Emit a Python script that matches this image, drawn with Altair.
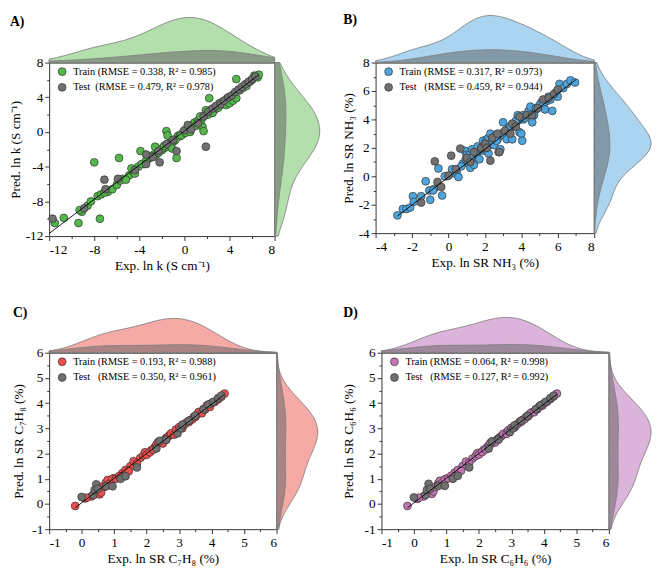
import altair as alt
import pandas as pd

FONT = "Liberation Serif"

# ---------------- data ----------------
# Panel A : ln k
A_train_x = [-11.5, -10.7, -9.4, -7.5, -8.0, -5.8, -3.9, -9.1, -8.6, -8.3, -7.7, -7.4, -7.1, -6.4, -6.0,
             -5.7, -5.2, -4.7, -4.4, -3.8, -3.4, -2.9, -2.6, -2.3, -2.0, -1.8, -1.6, -1.5, -1.3, -1.1,
             -0.8, -0.7, -0.3, 0.1, 0.3, 0.5, 0.9, 1.0, 1.2, 1.4, 1.6, 1.7, 1.9, 2.1, 2.2,
             2.4, 2.5, 2.8, 3.0, 3.1, 3.4, 3.7, 4.0, 4.3, 4.6, 4.6, 4.9, 5.2, 5.5, 5.8,
             6.0, 6.2, 6.5, 6.6, -9.3]
A_train_y = [-10.5, -9.9, -10.5, -10.0, -3.5, -3.0, -2.2, -9.2, -8.5, -8.0, -7.4, -7.2, -7.0, -6.6, -6.1,
             -5.6, -5.5, -4.2, -4.8, -3.7, -3.3, -2.8, -1.7, -2.4, -1.9, -1.6, 0.1, -0.4, -1.3, -1.9,
             -0.9, -3.0, -0.4, -0.1, 0.6, 0.0, 1.1, 0.7, 1.3, 1.8, 0.6, 0.1, 2.5, 2.0, 3.9,
             2.6, 2.2, 2.9, 2.8, 3.3, 3.2, 3.1, 3.3, 3.6, 3.9, 6.1, 4.8, 5.1, 5.3, 5.8,
             6.0, 6.5, 6.3, 6.6, -9.0]
# training points hidden under the test points along the diagonal
A_train_hx = [-6.8, -5.5, -4.9, -4.1, -3.6, -3.1, -2.5, -2.1, -1.7, -1.2, -0.9, -0.5, -0.2, 0.0, 0.2,
              0.4, 0.7, 0.8, 1.1, 1.3, 1.5, 1.8, 2.0, 2.3, 2.6, 2.7, 2.9, 3.3, 3.6, 3.8,
              -4.5, -3.3, -0.6, -0.4, -1.0, -0.1, 0.6, -1.4, -2.7, -2.0]
A_train_hy = [-6.9, -5.4, -5.0, -4.0, -3.7, -3.0, -2.6, -2.0, -1.8, -1.1, -1.0, -0.4, -0.3, 0.1, 0.1,
              0.5, 0.6, 0.9, 1.0, 1.4, 1.4, 1.9, 2.1, 2.2, 2.7, 2.6, 3.0, 3.4, 3.5, 3.9,
              -4.6, -3.2, -0.5, -0.5, -1.1, 0.0, 0.5, -1.5, -2.6, -2.1]
A_test_x = [-11.7, -7.1, -2.2, 1.9, -0.7, -8.9, -7.0, -5.9, -4.4, -3.4, -3.4, -2.8,
            -2.3, -1.6, -1.0, 0.0, 0.3, 0.6, 1.2, 1.7, 2.1, 2.5, 2.8,
            3.2, 3.5, 3.9, 4.2, 4.5, 4.8, 5.1, 5.4, 5.7, 6.0, 6.3]
A_test_y = [-10.0, -5.5, -3.5, -1.7, -2.2, -8.8, -6.6, -5.4, -4.4, -3.7, -2.6, -2.9,
            -2.2, -1.4, -0.9, 0.2, 0.8, 0.3, 1.0, 1.8, 2.3, 2.7, 3.0,
            3.2, 3.6, 4.0, 4.2, 4.6, 4.9, 5.2, 5.5, 5.8, 6.1, 6.4]
A_line_x = [-12.0, 6.6]
A_line_y = [-11.7, 6.6]

# Panel B : ln SR NH3
B_train_x = [-2.8, -2.5, -2.3, -2.1, -1.95, -1.9, -1.5, -1.25, -1.05, -1.0, -0.85, -0.55, -0.35, -0.2, 0.2,
             0.45, 0.55, 0.7, 0.9, 0.95, 1.0, 1.1, 1.15, 1.2, 1.25, 1.3, 1.4, 1.5, 1.6, 1.7,
             1.8, 1.9, 2.0, 2.1, 2.2, 2.2, 2.3, 2.4, 2.5, 2.6, 2.65, 2.75, 2.85, 3.0, 3.0,
             3.2, 3.3, 3.4, 3.5, 3.6, 3.7, 3.8, 3.9, 4.0, 4.05, 4.1, 4.2, 4.4, 4.5, 4.6,
             4.7, 4.8, 5.0, 5.2, 5.3, 5.5, 5.6, 5.7, 5.9, 6.0, 6.1, 6.3, 6.5, 6.7, 6.95]
B_train_y = [-2.75, -2.3, -2.3, -2.2, -1.4, -1.8, -1.4, -0.35, -1.0, -1.65, -1.0, 0.55, -1.35, 0.0, 0.5,
             0.3, -0.05, 0.7, 1.8, 1.2, 1.5, 1.0, 1.5, 0.6, 1.3, 1.9, 0.8, 1.6, 2.1, 1.2,
             1.9, 2.5, 2.0, 2.6, 1.6, 2.7, 3.0, 2.5, 2.2, 2.9, 2.5, 1.7, 1.9, 3.8, 2.9,
             2.6, 3.3, 3.5, 2.6, 3.6, 3.9, 4.3, 3.1, 3.0, 2.5, 4.3, 4.1, 4.6, 4.9, 3.8,
             4.3, 4.8, 5.0, 5.0, 4.7, 5.6, 5.4, 4.6, 5.9, 5.6, 6.5, 6.2, 6.5, 6.75, 6.6]
B_train_hx = [-0.8, -0.1, 0.3, 0.8, 1.0, 1.3, 1.6, 1.9, 2.1, 2.3, 2.5, 2.7, 2.9, 3.1, 3.3,
              3.6, 3.8, 4.1, 4.4, 4.8, 5.1, 5.4, 1.2, 2.0, 2.6]
B_train_hy = [-0.9, 0.0, 0.2, 0.9, 1.1, 1.2, 1.7, 1.8, 2.2, 2.2, 2.6, 2.6, 3.0, 3.0, 3.4,
              3.5, 3.9, 4.0, 4.5, 4.7, 5.2, 5.3, 1.3, 2.1, 2.7]
B_test_x = [-1.5, -0.75, -0.6, -0.4, 0.0, 0.15, 0.4, 0.65, 1.0, 1.2, 1.4, 1.8, 2.0, 2.1, 2.3,
            2.4, 2.7, 2.8, 3.1, 3.4, 3.5, 3.7, 3.9, 4.3, 4.6, 4.9, 5.2, 5.5, 5.8, 6.0]
B_test_y = [-1.85, 1.05, -0.4, -0.75, 0.05, 1.45, 0.5, 1.95, 1.3, 1.0, 1.7, 2.0, 2.3, 2.0, 1.1,
            2.7, 3.0, 1.7, 3.2, 3.0, 3.7, 3.5, 4.2, 4.3, 4.3, 4.8, 5.4, 5.5, 5.8, 6.1]
B_line_x = [-2.8, 7.0]
B_line_y = [-2.8, 6.8]

# Panel C : ln SR C7H8
C_train_x = [-0.2, 0.1, 0.15, 0.45, 0.55, 0.6, 0.65, 0.75, 0.8, 0.85, 0.95, 1.05, 1.15, 1.35, 1.45,
             1.6, 1.7, 1.95, 2.0, 2.1, 2.2, 2.3, 2.35, 2.45, 2.5, 2.6, 2.75, 2.85, 2.9, 3.0,
             3.1, 3.15, 3.2, 3.3, 3.4, 3.5, 3.55, 3.6, 3.7, 3.8, 3.85, 3.95, 4.0, 4.1, 4.2,
             4.3, 4.4]
C_train_y = [-0.08, 0.22, 0.25, 0.4, 0.38, 0.45, 0.7, 0.85, 0.95, 0.8, 1.0, 1.0, 1.1, 1.35, 1.3,
             1.7, 1.6, 2.05, 1.95, 2.05, 2.15, 2.35, 2.45, 2.5, 2.4, 2.55, 2.8, 2.75, 2.95, 3.05,
             3.0, 3.15, 3.2, 3.25, 3.35, 3.45, 3.55, 3.65, 3.6, 3.75, 3.9, 3.85, 4.0, 4.05, 4.15,
             4.25, 4.38]
C_train_hx = [0.3, 0.7, 1.0, 1.25, 1.5, 1.8, 2.05, 2.25, 2.4, 2.55, 2.65, 2.7, 2.8, 2.95, 3.05,
              3.25, 3.45, 3.65, 3.75, 3.9, 2.15, 2.9, 3.35, 1.9, 2.6]
C_train_hy = [0.3, 0.68, 1.02, 1.22, 1.5, 1.82, 2.02, 2.25, 2.42, 2.52, 2.66, 2.72, 2.78, 2.95, 3.02,
              3.25, 3.45, 3.62, 3.76, 3.88, 2.14, 2.88, 3.33, 1.92, 2.62]
C_test_x = [0.0, 0.35, 0.4, 0.45, 0.5, 0.75, 0.95, 1.2, 1.35, 1.7, 2.3, 2.4, 2.6, 2.95, 3.05,
            3.1, 3.3, 3.5, 3.75, 3.9, 4.05, 4.2, 4.3]
C_test_y = [0.28, 0.35, 0.55, 0.78, 0.6, 0.7, 0.7, 1.0, 1.1, 1.45, 2.2, 2.5, 2.55, 2.8, 3.0,
            3.15, 3.3, 3.5, 3.75, 3.95, 4.05, 4.2, 4.3]
C_line_x = [-0.2, 4.4]
C_line_y = [-0.15, 4.35]

# Panel D : ln SR C6H6
D_train_x = [-0.2, 0.1, 0.15, 0.45, 0.55, 0.6, 0.65, 0.75, 0.8, 0.85, 0.95, 1.05, 1.15, 1.35, 1.45,
             1.6, 1.7, 1.95, 2.0, 2.1, 2.2, 2.3, 2.35, 2.45, 2.5, 2.6, 2.75, 2.85, 2.9, 3.0,
             3.1, 3.15, 3.2, 3.3, 3.4, 3.5, 3.55, 3.6, 3.7, 3.8, 3.85, 3.95, 4.0, 4.1, 4.2,
             4.3, 4.4]
D_train_y = [-0.08, 0.2, 0.25, 0.42, 0.4, 0.5, 0.68, 0.82, 0.92, 0.82, 0.98, 1.02, 1.12, 1.35, 1.32,
             1.68, 1.62, 2.02, 1.96, 2.06, 2.16, 2.32, 2.42, 2.48, 2.44, 2.58, 2.78, 2.78, 2.92, 3.02,
             3.04, 3.14, 3.18, 3.26, 3.36, 3.46, 3.54, 3.62, 3.64, 3.76, 3.86, 3.9, 3.98, 4.06, 4.16,
             4.26, 4.38]
D_train_hx = [0.3, 0.7, 1.0, 1.25, 1.5, 1.8, 2.05, 2.25, 2.4, 2.55, 2.65, 2.7, 2.8, 2.95, 3.05,
              3.25, 3.45, 3.65, 3.75, 3.9, 2.15, 2.9, 3.35, 1.9, 2.6]
D_train_hy = [0.3, 0.7, 1.0, 1.24, 1.5, 1.8, 2.04, 2.25, 2.4, 2.54, 2.65, 2.7, 2.8, 2.95, 3.04,
              3.25, 3.45, 3.64, 3.75, 3.9, 2.15, 2.9, 3.34, 1.9, 2.6]
D_test_x = [0.0, 0.35, 0.4, 0.45, 0.5, 0.75, 0.95, 1.2, 1.35, 1.7, 2.3, 2.4, 2.6, 2.95, 3.05,
            3.1, 3.3, 3.5, 3.75, 3.9, 4.05, 4.2, 4.3]
D_test_y = [0.26, 0.36, 0.56, 0.8, 0.6, 0.72, 0.72, 1.0, 1.12, 1.45, 2.2, 2.48, 2.55, 2.85, 3.0,
            3.12, 3.3, 3.5, 3.75, 3.92, 4.05, 4.2, 4.3]
D_line_x = [-0.2, 4.4]
D_line_y = [-0.15, 4.35]

# axis ticks
A_ticks = [-12, -10, -8, -6, -4, -2, 0, 2, 4, 6, 8]
B_ticks = [-4, -3, -2, -1, 0, 1, 2, 3, 4, 5, 6, 7, 8]
C_ticks = [-1, -0.5, 0, 0.5, 1, 1.5, 2, 2.5, 3, 3.5, 4, 4.5, 5, 5.5, 6]

NB = "\u00a0"
PANELS = [
    dict(label="A)", xt="Exp. ln k (S cm⁻¹)", yt="Pred. ln k (S cm⁻¹)",
         trx=A_train_hx + A_train_x, try_=A_train_hy + A_train_y, tex=A_test_x, tey=A_test_y,
         lx=A_line_x, ly=A_line_y, dom=[-12, 8], ticks=A_ticks, major=4,
         names=["Train (RMSE = 0.338, R² = 0.985)", "Test" + NB + NB + "(RMSE = 0.479, R² = 0.978)"],
         color="#52b84a", fill="#b2dfab", bw=(1.8, 3.0),
         w=230, h=177, hd=46, rw=46, lab_x=-40, lab_y=-2, minext=0),
    dict(label="B)", xt="Exp. ln SR NH₃ (%)", yt="Pred. ln SR NH₃ (%)",
         trx=B_train_hx + B_train_x, try_=B_train_hy + B_train_y, tex=B_test_x, tey=B_test_y,
         lx=B_line_x, ly=B_line_y, dom=[-4, 8], ticks=B_ticks, major=2,
         names=["Train (RMSE = 0.317, R² = 0.973)", "Test" + NB + NB + NB + "(RMSE = 0.459, R² = 0.944)"],
         color="#4ea5de", fill="#abd4f0", bw=(1.0, 1.5),
         w=223, h=174, hd=48, rw=58, lab_x=-33, lab_y=-2, minext=0),
    dict(label="C)", xt="Exp. ln SR C₇H₈ (%)", yt="Pred. ln SR C₇H₈ (%)",
         trx=C_train_hx + C_train_x, try_=C_train_hy + C_train_y, tex=C_test_x, tey=C_test_y,
         lx=C_line_x, ly=C_line_y, dom=[-1, 6], ticks=C_ticks, major=1,
         names=["Train (RMSE = 0.193, R² = 0.988)", "Test" + NB + NB + NB + "(RMSE = 0.350, R² = 0.961)"],
         color="#ef4f4c", fill="#f6aaa6", bw=(0.7, 1.0),
         w=232, h=180, hd=35, rw=42, lab_x=-37, lab_y=-12, minext=21),
    dict(label="D)", xt="Exp. ln SR C₆H₆ (%)", yt="Pred. ln SR C₆H₆ (%)",
         trx=D_train_hx + D_train_x, try_=D_train_hy + D_train_y, tex=D_test_x, tey=D_test_y,
         lx=D_line_x, ly=D_line_y, dom=[-1, 6], ticks=C_ticks, major=1,
         names=["Train (RMSE = 0.064, R² = 0.998)", "Test" + NB + NB + NB + "(RMSE = 0.127, R² = 0.992)"],
         color="#c675b4", fill="#dcb3da", bw=(0.7, 1.0),
         w=232, h=180, hd=36, rw=43, lab_x=-39, lab_y=-11, minext=24),
]

TEST_COLOR = "#707070"
TEST_FILL = "#5e5e5e"
EDGE = "#333333"


def make_panel(p):
    dom = p["dom"]
    w, h, hd, rw = p["w"], p["h"], p["hd"], p["rw"]
    tr = pd.DataFrame({"x": p["trx"], "y": p["try_"], "set": p["names"][0]})
    te = pd.DataFrame({"x": p["tex"], "y": p["tey"], "set": p["names"][1]})
    pts = pd.concat([tr, te], ignore_index=True)
    ln = pd.DataFrame({"x": p["lx"], "y": p["ly"]})

    def sc():
        return alt.Scale(domain=dom, nice=False, zero=False)

    lab = f"datum.value % {p['major']} == 0 ? '' + datum.value : ''"
    tsize = {"condition": {"test": f"datum.value % {p['major']} != 0", "value": 2.5}, "value": 4.5}
    common = dict(values=p["ticks"], labelExpr=lab, tickSize=tsize, labelOverlap=False, grid=False,
                  domainColor=EDGE, tickColor=EDGE, labelFontSize=13.5, titleFontSize=13.5,
                  labelFont=FONT, titleFont=FONT, titleFontWeight="normal", labelColor="black",
                  titleColor="black", labelPadding=2, titlePadding=3)
    xaxis = alt.Axis(title=p["xt"], **common)
    yaxis = alt.Axis(title=p["yt"], minExtent=p["minext"], **common)

    points = alt.Chart(pts).mark_circle(size=64, opacity=1, stroke=EDGE, strokeWidth=0.7).encode(
        x=alt.X("x:Q", scale=sc(), axis=xaxis),
        y=alt.Y("y:Q", scale=sc(), axis=yaxis),
        color=alt.Color("set:N", sort=None,
                        scale=alt.Scale(domain=p["names"], range=[p["color"], TEST_COLOR]),
                        legend=alt.Legend(title=None, orient="none", legendX=8, legendY=4,
                                          labelFont=FONT, labelFontSize=10.5, labelColor="black",
                                          symbolType="circle", symbolSize=64, symbolStrokeColor=EDGE,
                                          symbolStrokeWidth=0.7, symbolOpacity=1, rowPadding=4,
                                          padding=0, labelOffset=6)),
    )
    line = alt.Chart(ln).mark_line(color="black", strokeWidth=0.9).encode(
        x=alt.X("x:Q", scale=sc(), axis=alt.Axis(orient="top", labels=False, ticks=False, title=None,
                                                 grid=False, domainColor=EDGE)),
        y=alt.Y("y:Q", scale=sc(), axis=alt.Axis(orient="right", labels=False, ticks=False, title=None,
                                                 grid=False, domainColor=EDGE)),
    )

    bw_tr, bw_te = p["bw"]

    def dens_top(df, fillc, op, bw):
        return alt.Chart(df).transform_density("x", as_=["v", "d"], extent=dom, bandwidth=bw,
                                               counts=True, steps=160).mark_area(
            fill=fillc, fillOpacity=op, stroke="#808080", strokeWidth=0.9).encode(
            x=alt.X("v:Q", scale=sc(), axis=None),
            y=alt.Y("d:Q", axis=None, scale=alt.Scale(zero=True, nice=False, range=[0, -hd])))

    def dens_right(df, fillc, op, bw):
        return alt.Chart(df).transform_density("y", as_=["v", "d"], extent=dom, bandwidth=bw,
                                               counts=True, steps=160).mark_area(
            orient="horizontal", fill=fillc, fillOpacity=op, stroke="#808080", strokeWidth=0.9).encode(
            y=alt.Y("v:Q", scale=sc(), axis=None),
            x=alt.X("d:Q", axis=None, scale=alt.Scale(zero=True, nice=False, range=[w, w + rw])))

    top = alt.layer(dens_top(tr, p["fill"], 1, bw_tr), dens_top(te, TEST_FILL, 0.5, bw_te))
    right = alt.layer(dens_right(tr, p["fill"], 1, bw_tr), dens_right(te, TEST_FILL, 0.5, bw_te))

    panel_label = alt.Chart(pd.DataFrame({"t": [p["label"]]})).mark_text(
        align="left", baseline="top", font=FONT, fontSize=14, fontWeight="bold", color="black").encode(
        text="t:N", x=alt.value(p["lab_x"]), y=alt.value(p["lab_y"] - hd))

    return alt.layer(top, right, points, line, panel_label).resolve_scale(
        x="independent", y="independent").resolve_axis(x="independent", y="independent").properties(
        width=w, height=h)


pA, pB, pC, pD = [make_panel(p) for p in PANELS]
row1 = alt.hconcat(pA, pB, spacing=20).resolve_scale(color="independent").resolve_legend(color="independent")
row2 = alt.hconcat(pC, pD, spacing=22).resolve_scale(color="independent").resolve_legend(color="independent")
chart = alt.vconcat(row1, row2, spacing=35).resolve_scale(color="independent").resolve_legend(
    color="independent").properties(padding=0).configure_view(stroke=None)

chart.save("out.html", embed_options={"renderer": "svg", "actions": False})
